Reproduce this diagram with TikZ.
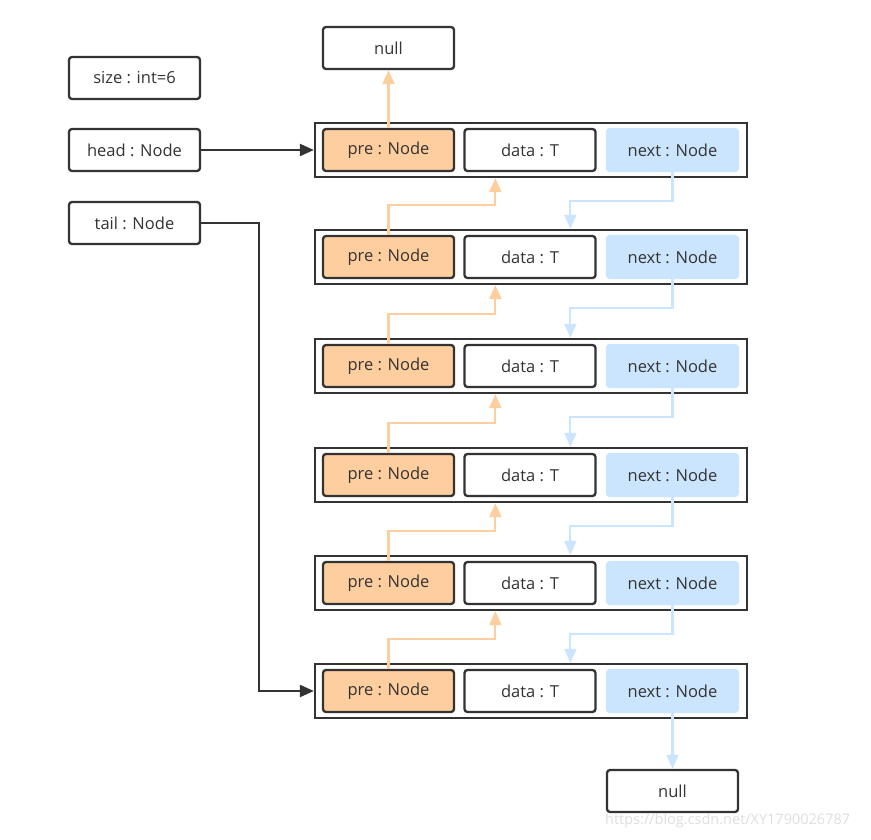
\documentclass[tikz,border=0pt]{standalone}
\usepackage{fontspec}
\setmainfont{Open Sans}
\usetikzlibrary{arrows.meta,calc}
\definecolor{ink}{HTML}{333333}
\definecolor{orng}{HTML}{FFCE9F}
\definecolor{blu}{HTML}{CCE5FF}
\tikzset{
  cell/.style={draw=ink, line width=2.3pt, rounded corners=3pt, minimum width=131pt, minimum height=42pt, inner sep=0pt, font=\fontsize{16.5}{18}\selectfont, text=ink},
  precell/.style={cell, fill=orng},
  datacell/.style={cell, fill=white},
  nextcell/.style={cell, draw=blu, fill=blu},
  rowbox/.style={draw=ink, line width=2.3pt, minimum width=432pt, minimum height=54pt, inner sep=0pt},
  tip/.style={-{Triangle[length=14pt,width=12pt]}},
  blkline/.style={tip, draw=ink, line width=2.2pt},
  orline/.style={tip, draw=orng, line width=2.2pt},
  buline/.style={tip, draw=blu, line width=2.2pt},
}
\begin{document}
\begin{tikzpicture}[x=1pt,y=-1pt]
\useasboundingbox (0,0) rectangle (871,839);
\node[datacell] (null1) at (388.5,48) {null};
\node[datacell] (size) at (134.5,78) {size : int=6};
\node[datacell] (head) at (134.5,150) {head : Node};
\node[datacell] (tail) at (134.5,223) {tail : Node};
\foreach \i/\y in {1/150,2/257,3/366,4/475,5/583,6/691}{
  \node[rowbox] (row\i) at (531,\y) {};
  \node[precell] (pre\i) at (388.5,\y) {pre : Node};
  \node[datacell] (data\i) at (530,\y) {data : T};
  \node[nextcell] (next\i) at (672.5,\y) {next : Node};
}
\node[datacell] (null2) at (672.5,791) {null};
\node[anchor=west, text=black!13, font=\fontsize{14.5}{16}\selectfont, inner sep=0pt] (wm) at (605,821) {https://blog.csdn.net/XY1790026787};
% connectors
\draw[orline] (pre1.north) -- (null1.south);
\draw[buline] (next6.south) -- (null2.north);
\draw[blkline] (head.east) -- (row1.west);
\draw[blkline] (tail.east) -- ++(58,0) |- (row6.west);
\foreach \i/\j in {1/2,2/3,3/4,4/5,5/6}{
  \draw[orline] (pre\j.north) -- ++(0,-30) -| ($(data\i.south west |- row\i.south)+(32,0)$);
  \draw[buline] (next\i.south) -- ++(0,29) -| ($(data\j.north west |- row\j.north)+(107,0)$);
}
\end{tikzpicture}
\end{document}
